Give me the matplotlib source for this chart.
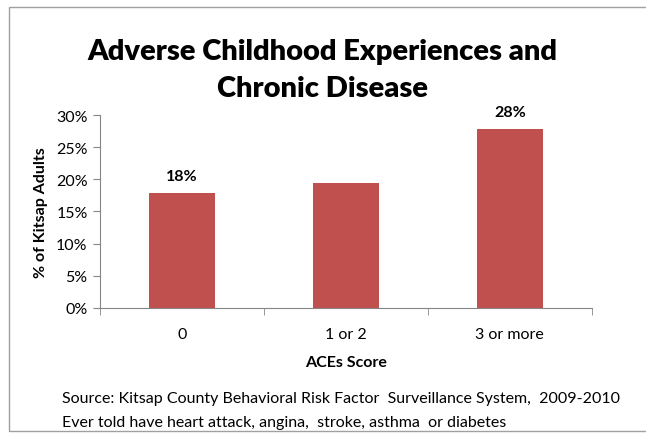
import matplotlib.pyplot as plt
from matplotlib.patches import Rectangle
from matplotlib.ticker import FuncFormatter, FixedLocator

categories = ["0", "1 or 2", "3 or more"]
percent_adults = [17.8, 19.4, 27.8]
bar_labels = ["18%", "", "28%"]
y_ticks = [0, 5, 10, 15, 20, 25, 30]

plt.rcParams["font.family"] = ["Lato", "DejaVu Sans"]

fig = plt.figure(figsize=(6.46, 4.35), dpi=100)
ax = fig.add_axes([0.155, 0.2897, 0.761, 0.4436])

x = range(len(categories))
bars = ax.bar(x, percent_adults, width=0.4, color="#C0504D", zorder=2)
for bar, label in zip(bars, bar_labels):
    if label:
        ax.text(bar.get_x() + bar.get_width() / 2, bar.get_height() + 1.6, label,
                ha="center", va="bottom", fontsize=11.5, fontweight="bold")

ax.set_xlim(-0.5, len(categories) - 0.5)
ax.set_ylim(0, 30)
ax.set_yticks(y_ticks)
ax.yaxis.set_major_formatter(FuncFormatter(lambda v, _: f"{v:.0f}%"))
ax.set_xticks(list(x))
ax.set_xticklabels(categories, fontsize=11.5)
ax.xaxis.set_minor_locator(FixedLocator([-0.5, 0.5, 1.5, 2.5]))
ax.tick_params(axis="x", which="major", length=0, pad=14)
ax.tick_params(axis="x", which="minor", length=5, color="#868686")
ax.tick_params(axis="y", length=5, color="#868686", labelsize=11.5, pad=4)

for side in ["top", "right"]:
    ax.spines[side].set_visible(False)
ax.spines["left"].set_color("#868686")
ax.spines["bottom"].set_color("#868686")

ax.set_xlabel("ACEs Score", fontsize=11.5, fontweight="bold", labelpad=10)
ax.set_ylabel("% of Kitsap Adults", fontsize=11.5, fontweight="bold", labelpad=6)

fig.text(0.499, 0.838, "Adverse Childhood Experiences and\nChronic Disease",
         ha="center", va="center", fontsize=21, fontweight="heavy", linespacing=1.5)
fig.text(0.096, 0.083, "Source: Kitsap County Behavioral Risk Factor  Surveillance System,  2009-2010",
         ha="left", va="center", fontsize=11.5)
fig.text(0.096, 0.028, "Ever told have heart attack, angina,  stroke, asthma  or diabetes",
         ha="left", va="center", fontsize=11.5)

fig.patches.append(Rectangle((9 / 646, 3 / 435), 1.0, 424 / 435, transform=fig.transFigure,
                             fill=False, edgecolor="#A0A0A0", linewidth=1.0))

fig.savefig("out.png", dpi=100)
